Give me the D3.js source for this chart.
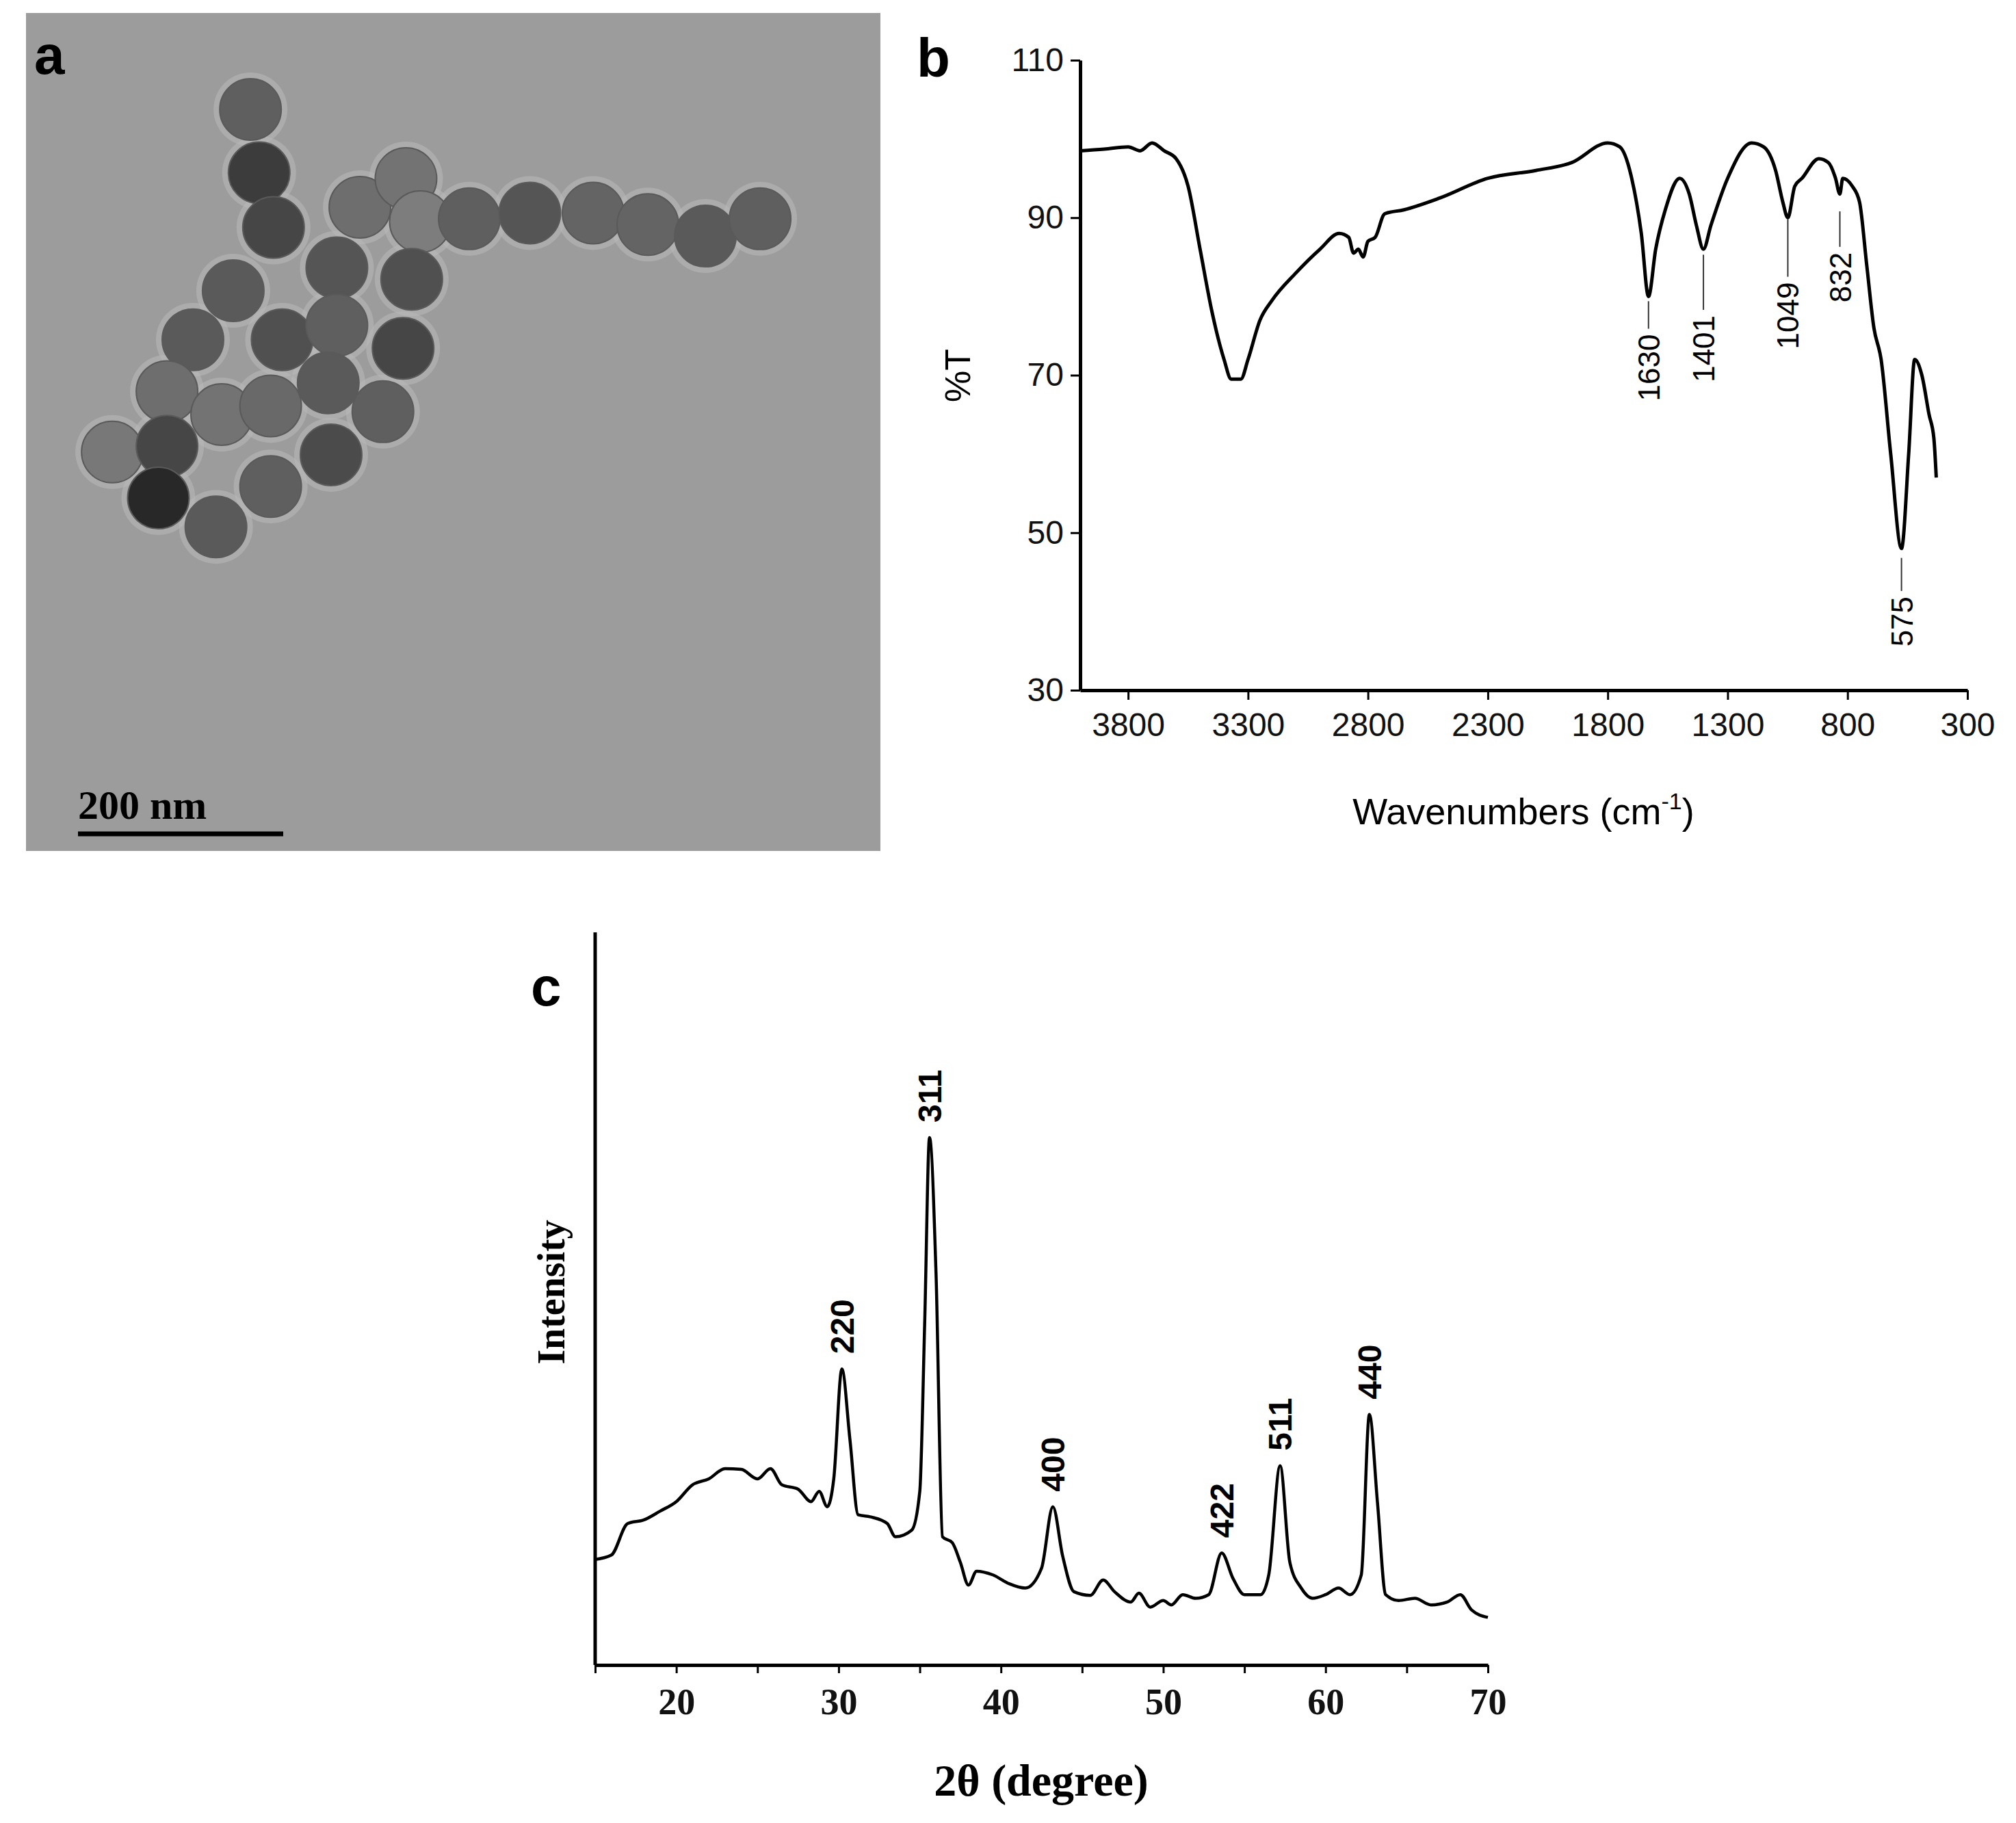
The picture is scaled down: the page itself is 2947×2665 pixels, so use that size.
<!DOCTYPE html>
<html><head><meta charset="utf-8">
<script src="https://cdn.jsdelivr.net/npm/d3@7/dist/d3.min.js"></script>
<style>body{margin:0;background:#fff}</style></head>
<body><svg id="c" width="2947" height="2665"></svg>
<script>
// Panel b: FTIR
const ftirWn = [4000,3900,3800,3750,3700,3650,3600,3550,3500,3450,3400,3370,3330,3300,3250,3200,3100,3000,2920,2880,2860,2840,2820,2800,2770,2730,2650,2500,2300,2100,1950,1800,1750,1700,1660,1630,1600,1560,1500,1460,1430,1401,1370,1300,1200,1150,1100,1070,1049,1020,990,920,880,850,832,820,780,750,720,690,660,620,575,545,520,490,460,440,430];
const ftirT  = [98.5,98.7,99,98.5,99.5,98.5,97.5,94,86,78,72,69.5,69.5,72,77,79.5,83,86,88,87.5,85.5,86,85,87,87.5,90.5,91,92.5,95,96,97,99.5,99,95,88,80,86,91,95,93,89,86,89,95,99.5,99,96,92,90,94,95,97.5,97,95,93,95,94,92,84,76,72,60,48,60,72,70,65,62,57];
const ftirYTicks = [30,50,70,90,110];
const ftirXTicks = [3800,3300,2800,2300,1800,1300,800,300];
const ftirPeaks = ["1630","1401","1049","832","575"];
const ftirPeakWn = [1630,1401,1049,832,575];
const ftirLineTop = [79.4,85.3,89.8,90.8,46.8];
const ftirLineBot = [75.9,78.3,82.5,86.3,42.6];
// Panel c: XRD
const xrdTheta = [15,16,17,18,19,20,21,22,23,24,25,25.8,26.5,27.5,28.3,28.8,29.3,29.7,30.2,30.7,31.2,32,33,33.5,34.5,35,35.3,35.6,36,36.4,37,37.5,38,38.5,39.5,40.5,41.5,42.5,43.2,43.8,44.5,45.5,46.3,47,48,48.5,49.2,50,50.5,51.2,52,52.8,53.6,54.3,55,56,56.5,57.2,57.8,58.5,59.2,60,60.8,61.5,62.2,62.7,63.2,63.7,64.5,65.5,66.5,67.5,68.3,69,70];
const xrdI = [14.4,15,19.3,19.8,21,22.3,24.6,25.4,26.8,26.7,25.4,26.8,24.6,24,22.3,23.7,21.6,25.4,40.4,30.7,20.5,20.2,19.3,17.5,18.4,23.7,46.5,72,53.5,17.5,16.7,14,10.9,12.8,12.3,11.1,10.5,13.2,21.6,14.9,10,9.5,11.6,10,8.6,9.8,7.9,8.8,8.2,9.6,9.1,9.6,15.3,11.8,9.6,9.6,12.3,27.2,14,10.5,9.1,9.6,10.5,9.6,12.3,34.2,22.1,9.6,8.8,9.1,8.2,8.6,9.6,7.5,6.5];
const xrdPeaks = ["220","311","400","422","511","440"];
const xrdPeakTheta = [30.2,35.6,43.2,53.6,57.2,62.7];
const xrdPeakI = [40.4,72,21.6,15.3,27.2,34.2];
const xrdXTicks = [20,30,40,50,60,70];
// Panel a: TEM particles (centre x, centre y, shade)
const temX = [435,450,475,625,705,730,815,920,1030,1125,1225,1320,585,715,405,335,490,585,700,290,385,470,570,665,195,290,275,575,470,375];
const temY = [190,300,395,360,310,385,380,370,370,390,410,380,465,485,505,590,590,565,605,680,720,705,665,715,785,775,865,790,845,915];
const temShade = [95,60,70,110,115,125,95,85,100,100,90,95,85,80,90,90,80,95,70,110,115,105,90,95,120,70,40,75,95,90];

const svg = d3.select("#c");
const sans = "Liberation Sans, Arial, sans-serif", serif = "Liberation Serif, Times New Roman, serif";

// ---- Panel a
const ga = svg.append("g");
ga.append("rect").attr("x",38).attr("y",19).attr("width",1249).attr("height",1225).attr("fill","#9c9c9c");
const k = 1/1.188;
ga.selectAll("circle.halo").data(temX).join("circle").attr("cx",(d)=>d*k).attr("cy",(d,i)=>temY[i]*k).attr("r",54).attr("fill","#b8b8b8").attr("opacity",0.6);
ga.selectAll("circle.p").data(temX).join("circle").attr("cx",(d)=>d*k).attr("cy",(d,i)=>temY[i]*k).attr("r",45)
  .attr("fill",(d,i)=>d3.rgb(temShade[i],temShade[i],temShade[i])).attr("stroke","#5a5a5a").attr("stroke-width",2);
ga.append("text").attr("x",50).attr("y",108).attr("font-family",sans).attr("font-weight","bold").attr("font-size",80).text("a");
ga.append("line").attr("x1",114).attr("x2",414).attr("y1",1219).attr("y2",1219).attr("stroke","#000").attr("stroke-width",7);
ga.append("text").attr("x",114).attr("y",1197).attr("font-family",serif).attr("font-weight","bold").attr("font-size",60).text("200 nm");

// ---- Panel b
const xb = d3.scaleLinear().domain([4000,300]).range([1579,2876]);
const yb = d3.scaleLinear().domain([30,110]).range([1009,88]);
const gb = svg.append("g");
gb.append("g").attr("transform","translate(0,1009)")
  .call(d3.axisBottom(xb).tickValues(ftirXTicks).tickSize(14).tickSizeOuter(0).tickFormat(d3.format("d")))
  .call(g=>{g.select(".domain").attr("stroke-width",5);g.selectAll(".tick line").attr("stroke-width",3);
    g.selectAll("text").attr("font-family",sans).attr("font-size",48).attr("dy","1.05em").attr("fill","#111");});
gb.append("g").attr("transform","translate(1579,0)")
  .call(d3.axisLeft(yb).tickValues(ftirYTicks).tickSize(14).tickSizeOuter(0))
  .call(g=>{g.select(".domain").attr("stroke-width",5);g.selectAll(".tick line").attr("stroke-width",3);
    g.selectAll("text").attr("font-family",sans).attr("font-size",48).attr("x",-24).attr("fill","#111");});
gb.append("path").datum(ftirWn.map((w,i)=>[w,ftirT[i]])).attr("fill","none").attr("stroke","#000").attr("stroke-width",5)
  .attr("d",d3.line().x(d=>xb(d[0])).y(d=>yb(d[1])).curve(d3.curveMonotoneX));
ftirPeaks.forEach((p,i)=>{
  const x = xb(ftirPeakWn[i]);
  gb.append("line").attr("x1",x).attr("x2",x).attr("y1",yb(ftirLineTop[i])).attr("y2",yb(ftirLineBot[i])).attr("stroke","#333").attr("stroke-width",2);
  gb.append("text").attr("transform",`translate(${x+16},${yb(ftirLineBot[i])+8}) rotate(-90)`).attr("text-anchor","end")
    .attr("font-family",sans).attr("font-size",44).text(p);
});
gb.append("text").attr("x",1340).attr("y",112).attr("font-family",sans).attr("font-weight","bold").attr("font-size",80).text("b");
gb.append("text").attr("transform","translate(1418,549) rotate(-90)").attr("text-anchor","middle").attr("font-family",sans).attr("font-size",52).text("%T");
const xl = gb.append("text").attr("x",2227).attr("y",1205).attr("text-anchor","middle").attr("font-family",sans).attr("font-size",54);
xl.append("tspan").text("Wavenumbers (cm");
xl.append("tspan").attr("dy",-22).attr("font-size",34).text("-1");
xl.append("tspan").attr("dy",22).text(")");

// ---- Panel c
const xc = d3.scaleLinear().domain([15,70]).range([870,2175]);
const yc = d3.scaleLinear().domain([0,100]).range([2434,1363]);
const gc = svg.append("g");
gc.append("g").attr("transform","translate(0,2434)")
  .call(d3.axisBottom(xc).tickValues(d3.range(15,71,5)).tickSize(12).tickSizeOuter(0).tickFormat(d=>xrdXTicks.includes(d)?d:""))
  .call(g=>{g.select(".domain").attr("stroke-width",5);g.selectAll(".tick line").attr("stroke-width",3);
    g.selectAll("text").attr("font-family",serif).attr("font-weight","bold").attr("font-size",54).attr("dy","1.05em").attr("fill","#111");});
gc.append("line").attr("x1",870).attr("x2",870).attr("y1",1363).attr("y2",2434).attr("stroke","#000").attr("stroke-width",5);
gc.append("path").datum(xrdTheta.map((t,i)=>[t,xrdI[i]])).attr("fill","none").attr("stroke","#000").attr("stroke-width",4.5)
  .attr("d",d3.line().x(d=>xc(d[0])).y(d=>yc(d[1])).curve(d3.curveMonotoneX));
xrdPeaks.forEach((p,i)=>{
  gc.append("text").attr("transform",`translate(${xc(xrdPeakTheta[i])+17},${yc(xrdPeakI[i])-22}) rotate(-90)`)
    .attr("font-family",sans).attr("font-weight","bold").attr("font-size",48).text(p);
});
gc.append("text").attr("x",776).attr("y",1470).attr("font-family",sans).attr("font-weight","bold").attr("font-size",80).text("c");
gc.append("text").attr("transform","translate(825,1889) rotate(-90)").attr("text-anchor","middle").attr("font-family",serif).attr("font-weight","bold").attr("font-size",56).text("Intensity");
gc.append("text").attr("x",1522).attr("y",2625).attr("text-anchor","middle").attr("font-family",serif).attr("font-weight","bold").attr("font-size",66).text("2θ (degree)");
</script></body></html>
